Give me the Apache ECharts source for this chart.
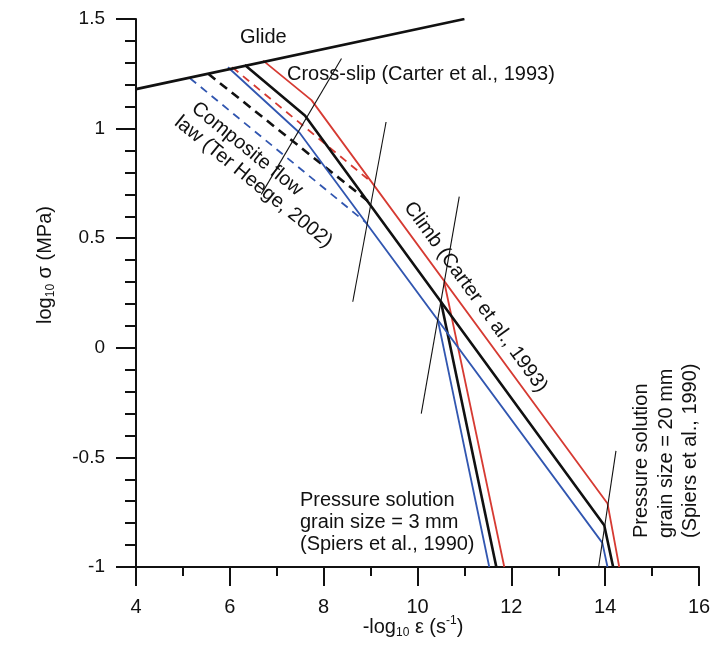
<!DOCTYPE html>
<html>
<head>
<meta charset="utf-8">
<script src="https://cdn.jsdelivr.net/npm/echarts@6/dist/echarts.min.js"></script>
<style>
    html, body { margin: 0; padding: 0; background: #fff; }
    #main { width: 712px; height: 646px; }
</style>
</head>
<body>
<div id="main"></div>
<script>
    // axis ranges (-log10 strain rate, log10 stress)
    var xRange = [4, 16];
    var yRange = [-1, 1.5];

    // glide limit
    var glide = [[4, 1.18], [11, 1.5]];

    // cross-slip -> climb branches (solid)
    var blackCreep = [[6.32, 1.29], [7.60, 1.06], [13.98, -0.81], [14.17, -1]];
    var redCreep = [[6.71, 1.31], [7.74, 1.13], [14.05, -0.71], [14.30, -1]];
    var blueCreep = [[5.96, 1.28], [7.49, 0.98], [13.94, -0.89], [14.05, -1]];

    // pressure solution, grain size 3 mm
    var blackPS3 = [[10.50, 0.21], [11.68, -1]];
    var redPS3 = [[10.57, 0.30], [11.85, -1]];
    var bluePS3 = [[10.43, 0.13], [11.53, -1]];

    // composite flow law (dashed)
    var blackComposite = [[5.54, 1.25], [8.94, 0.67]];
    var redComposite = [[6.05, 1.28], [8.94, 0.77]];
    var blueComposite = [[5.15, 1.23], [8.91, 0.57]];

    // thin boundary lines between regimes
    var bound1 = [[8.38, 1.32], [6.67, 0.70]];
    var bound2 = [[9.33, 1.03], [8.62, 0.21]];
    var bound3 = [[10.89, 0.69], [10.08, -0.30]];
    var bound4 = [[14.23, -0.47], [13.86, -1]];

    var FONT = 'Liberation Sans, Arial, sans-serif';
    var RED = '#d63a32';
    var BLUE = '#3156b0';
    var INK = '#111';

    function line(data, color, width, type) {
        return {
            type: 'line',
            data: data,
            showSymbol: false,
            silent: true,
            lineStyle: {color: color, width: width, type: type || 'solid'}
        };
    }

    function label(x, y, text, rot, extra) {
        var st = {text: text, fontSize: 20, fontFamily: FONT, fill: INK, align: 'left', verticalAlign: 'middle'};
        for (var k in extra) st[k] = extra[k];
        return {type: 'text', x: x, y: y, rotation: (rot || 0) * Math.PI / 180, style: st, z: 100};
    }

    var chart = echarts.init(document.getElementById('main'));
    chart.setOption({
        animation: false,
        backgroundColor: '#fff',
        grid: {left: 136, right: 13, top: 19, bottom: 79, containLabel: false, outerBoundsMode: 'none'},
        xAxis: {
            type: 'value',
            min: xRange[0],
            max: xRange[1],
            interval: 2,
            axisLine: {show: true, onZero: false, lineStyle: {color: INK, width: 2}},
            axisTick: {show: true, length: 19, lineStyle: {color: INK, width: 2}},
            minorTick: {show: true, splitNumber: 2, length: 9, lineStyle: {color: INK, width: 2}},
            axisLabel: {margin: 30, fontSize: 20, fontFamily: FONT, color: INK},
            splitLine: {show: false}
        },
        yAxis: {
            type: 'value',
            min: yRange[0],
            max: yRange[1],
            interval: 0.5,
            axisLine: {show: true, onZero: false, lineStyle: {color: INK, width: 2}},
            axisTick: {show: true, length: 20, lineStyle: {color: INK, width: 2}},
            minorTick: {show: true, splitNumber: 5, length: 11, lineStyle: {color: INK, width: 2}},
            axisLabel: {margin: 31, fontSize: 19, fontFamily: FONT, color: INK},
            splitLine: {show: false}
        },
        series: [
            line(blueComposite, BLUE, 1.8, [8, 6]),
            line(redComposite, RED, 1.8, [8, 6]),
            line(blackComposite, INK, 2.6, [9, 6]),
            line(bluePS3, BLUE, 1.8),
            line(redPS3, RED, 1.8),
            line(blackPS3, INK, 2.6),
            line(blueCreep, BLUE, 1.8),
            line(redCreep, RED, 1.8),
            line(blackCreep, INK, 2.6),
            line(glide, INK, 2.6),
            line(bound1, INK, 1.1),
            line(bound2, INK, 1.1),
            line(bound3, INK, 1.1),
            line(bound4, INK, 1.1)
        ],
        graphic: [
            label(240, 37, 'Glide'),
            label(287, 74, 'Cross-slip (Carter et al., 1993)'),
            label(194, 106, 'Composite flow', -39),
            label(177, 120, 'law (Ter Heege, 2002)', -39),
            label(408, 204, 'Climb (Carter et al., 1993)', -54),
            label(300, 522, 'Pressure solution\ngrain size = 3 mm\n(Spiers et al., 1990)', 0, {lineHeight: 22}),
            label(666, 538, 'Pressure solution\ngrain size = 20 mm\n(Spiers et al., 1990)', 90, {lineHeight: 24.5}),
            label(45, 265, '{n|log}{s|10}{n| σ (MPa)}', 90, {
                align: 'center',
                rich: {
                    n: {fontSize: 20, fontFamily: FONT, lineHeight: 24},
                    s: {fontSize: 12, fontFamily: FONT, lineHeight: 12, verticalAlign: 'bottom'}
                }
            }),
            label(413, 627, '{n|-log}{s|10}{n| ε (s}{p|-1}{n|)}', 0, {
                align: 'center',
                rich: {
                    n: {fontSize: 20, fontFamily: FONT, lineHeight: 24},
                    s: {fontSize: 12, fontFamily: FONT, lineHeight: 12, verticalAlign: 'bottom'},
                    p: {fontSize: 12, fontFamily: FONT, lineHeight: 12, verticalAlign: 'top'}
                }
            })
        ]
    });
</script>
</body>
</html>
